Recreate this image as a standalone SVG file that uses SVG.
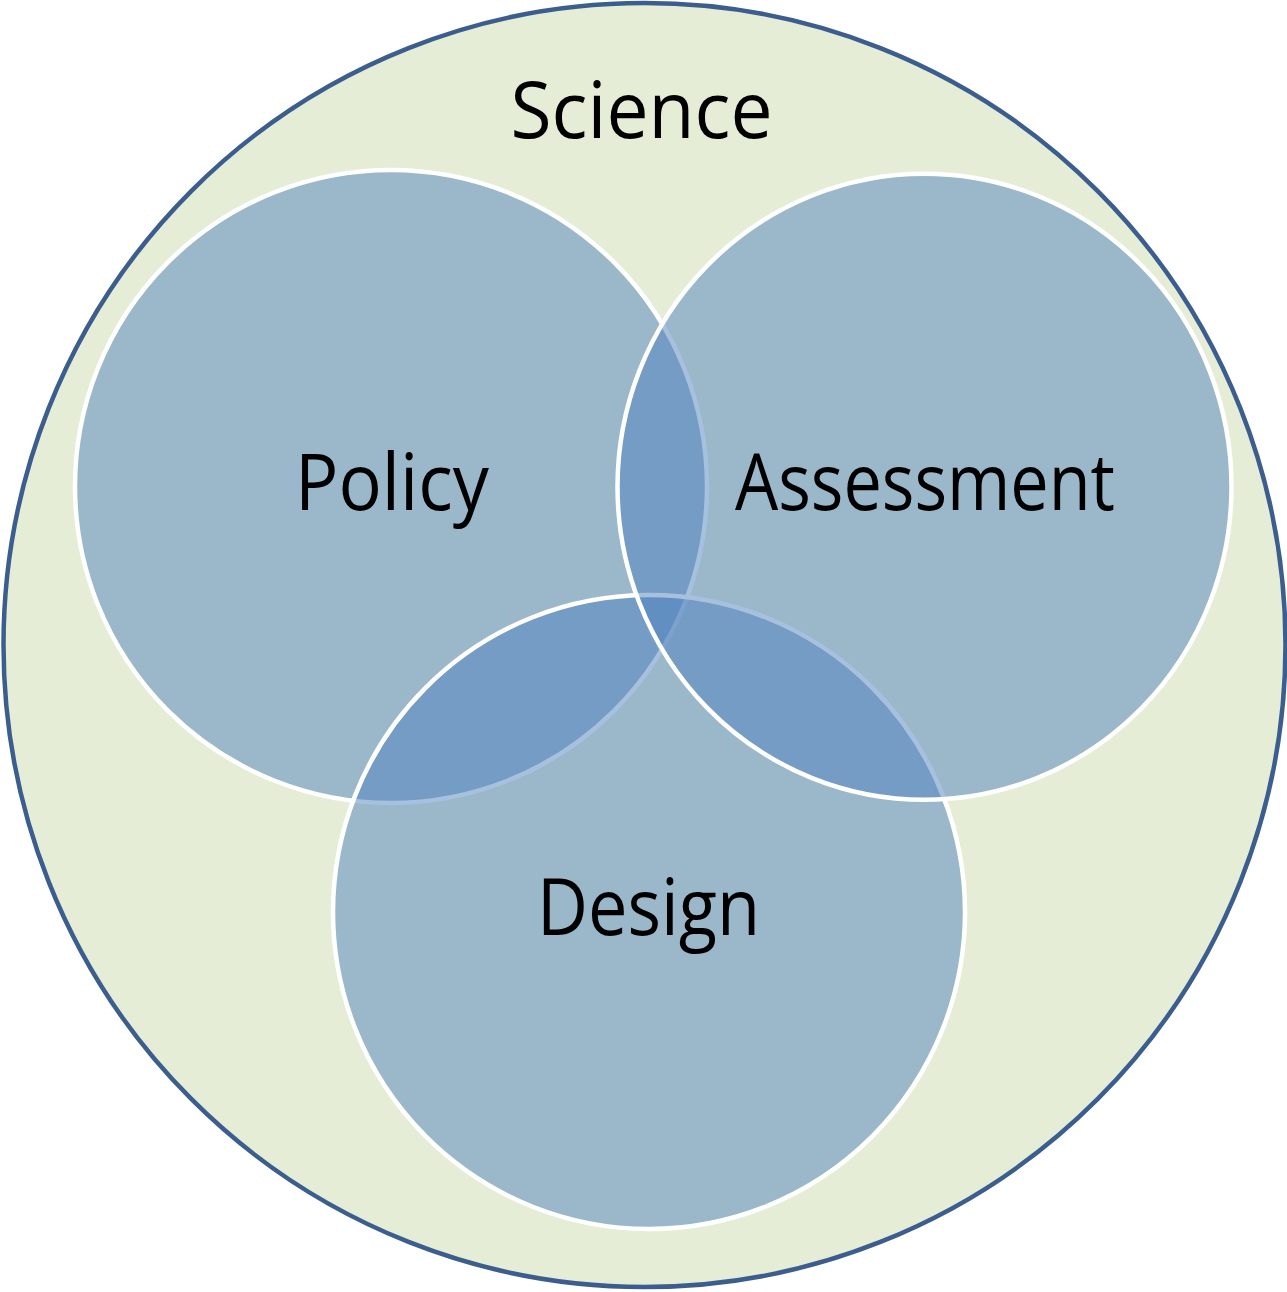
<svg xmlns="http://www.w3.org/2000/svg" width="1287" height="1292" viewBox="0 0 1287 1292">
  <style>
    .outer { fill: #e6edd7; stroke: #3b5e8e; stroke-width: 4.5; }
    .set { fill: #4f81bd; fill-opacity: 0.5; stroke: #ffffff; stroke-width: 4.5; }
    .label { font-family: "Open Sans", "Liberation Sans", sans-serif; font-size: 78px; fill: #000000; text-anchor: middle; }
  </style>
  <rect x="0" y="0" width="1287" height="1292" fill="#ffffff"/>

  <g id="science">
    <ellipse class="outer" cx="644.5" cy="645" rx="641" ry="642"/>
    <text class="label" x="641.5" y="138" textLength="262" lengthAdjust="spacingAndGlyphs">Science</text>
  </g>

  <g id="policy">
    <ellipse class="set" cx="391" cy="486.5" rx="316" ry="316.5"/>
  </g>

  <g id="design">
    <ellipse class="set" cx="649" cy="912" rx="316" ry="317"/>
  </g>

  <g id="assessment">
    <ellipse class="set" cx="924.5" cy="486.8" rx="307" ry="313"/>
  </g>

  <g id="labels">
    <text class="label" x="392" y="510" textLength="194" lengthAdjust="spacingAndGlyphs">Policy</text>
    <text class="label" x="925" y="510" textLength="380" lengthAdjust="spacingAndGlyphs">Assessment</text>
    <text class="label" x="648.5" y="935" textLength="223" lengthAdjust="spacingAndGlyphs">Design</text>
  </g>

  <g id="connectors"/>
</svg>
